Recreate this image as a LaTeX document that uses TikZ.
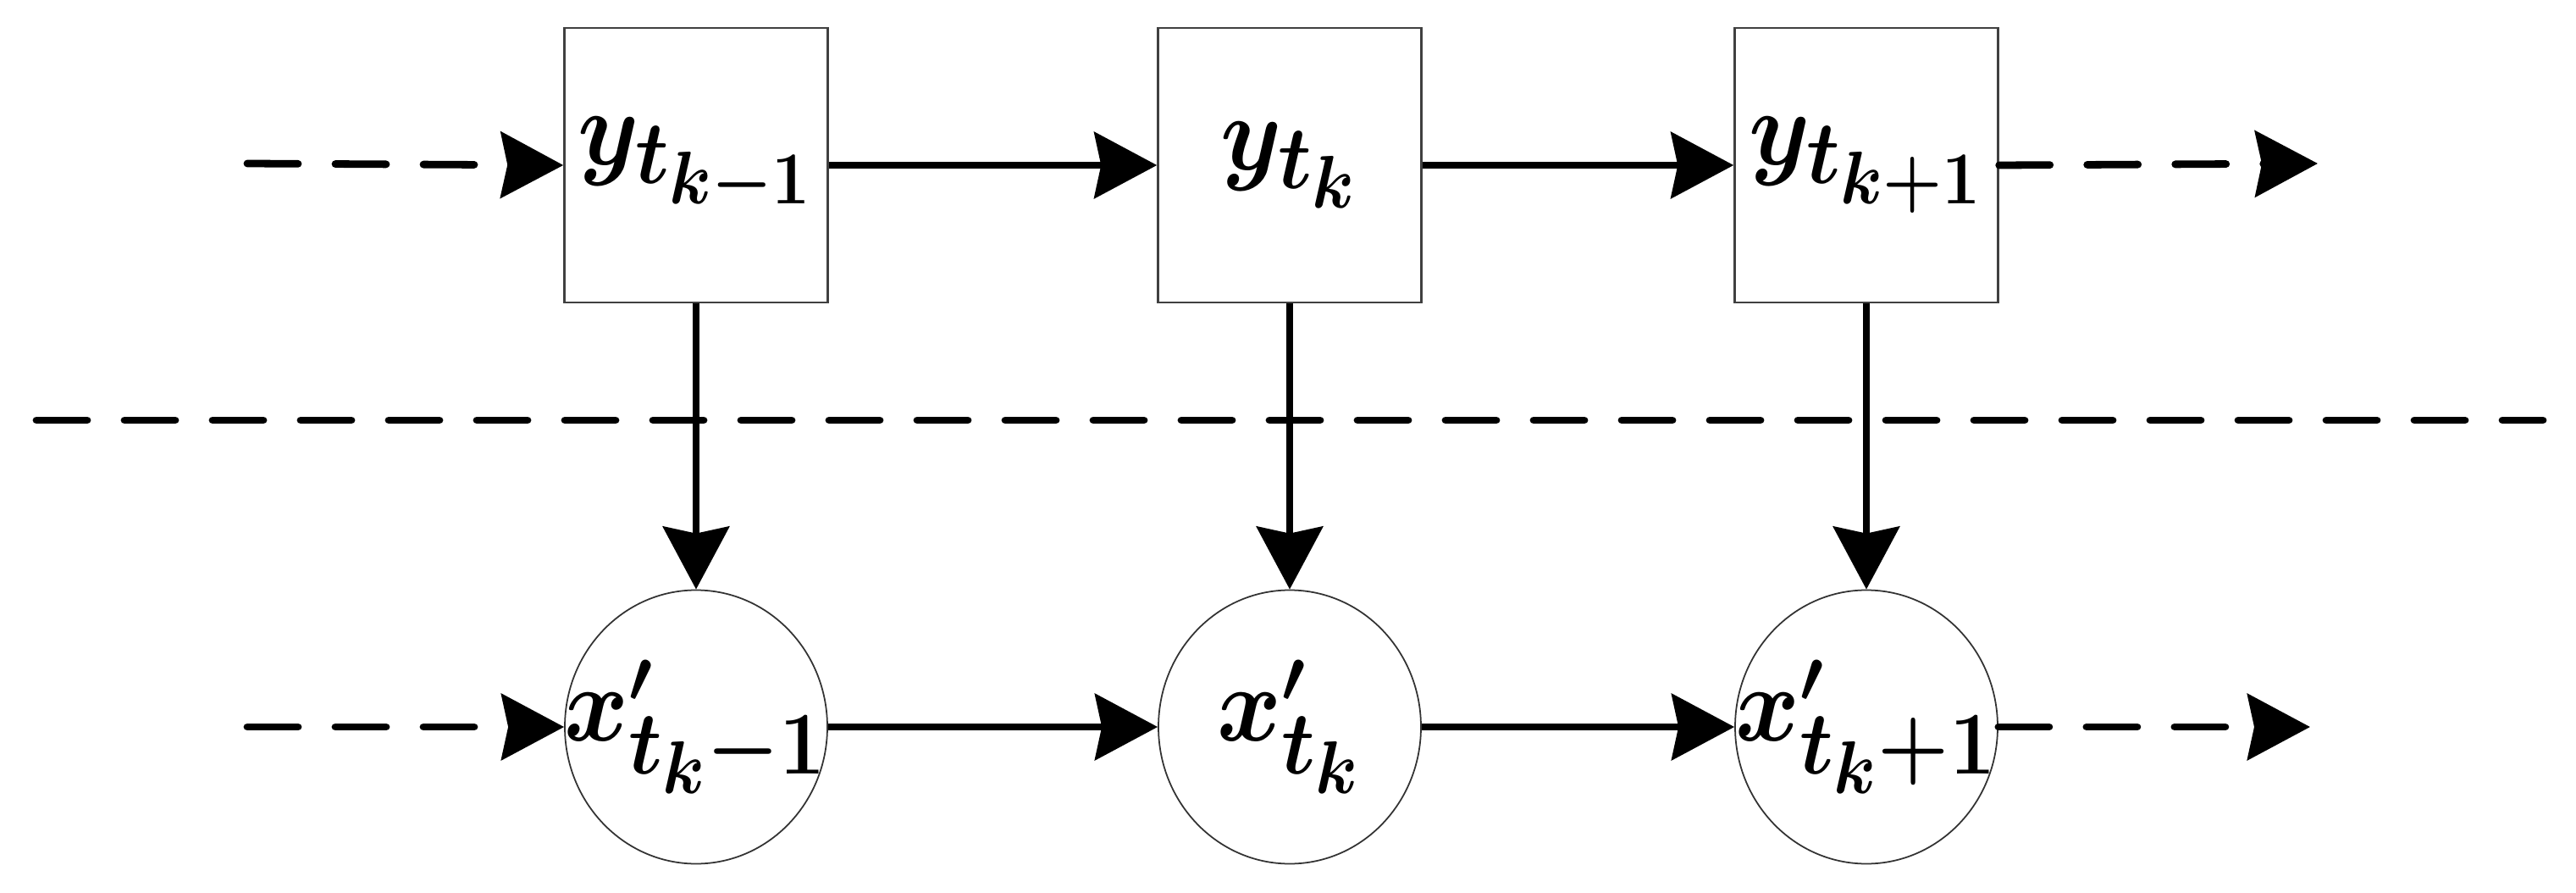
\documentclass[tikz,border=0pt]{standalone}
\usepackage{graphicx}
\usetikzlibrary{arrows.meta,shapes.geometric}
\newcommand{\bigsym}[1]{\makebox[0pt]{\scalebox{1.32}[1.45]{\boldmath$#1$}}}
\begin{document}
\begin{tikzpicture}[
    obsbox/.style={draw=black!75, line width=0.7pt, minimum width=3.11cm, minimum height=3.24cm, inner sep=0pt, font=\Huge},
    hidnode/.style={draw=black!80, line width=0.5pt, ellipse, minimum width=3.1cm, minimum height=3.23cm, inner sep=0pt, font=\Huge},
    flow/.style={line width=2.5pt, -{Stealth[length=7.4mm, width=7.8mm, inset=0.8mm]}},
    dflow/.style={flow, line cap=round, dash pattern=on 0.6cm off 0.44cm}
  ]
  \useasboundingbox (0,0) rectangle (30.42,-10.54);
  % top row
  \node[obsbox] (YA) at (8.22,-1.95) {\bigsym{y_{t_{k-1}}}};
  \node[obsbox] (YB) at (15.23,-1.95) {\bigsym{y_{t_k}}};
  \node[obsbox] (YC) at (22.04,-1.95) {\bigsym{y_{t_{k+1}}}};
  % bottom row
  \node[hidnode] (XA) at (8.22,-8.58) {\bigsym{x^{\scriptscriptstyle\prime}_{t_k-1}}};
  \node[hidnode] (XB) at (15.23,-8.58) {\bigsym{x^{\scriptscriptstyle\prime}_{t_k}}};
  \node[hidnode] (XC) at (22.04,-8.58) {\bigsym{x^{\scriptscriptstyle\prime}_{t_k+1}}};

  \coordinate (YIN) at (2.92,-1.93);
  \coordinate (YOUT) at (27.37,-1.93);
  \coordinate (XIN) at (2.92,-8.58);
  \coordinate (XOUT) at (27.28,-8.58);
  \coordinate (SL) at (0.43,-4.96);
  \coordinate (SR) at (30.03,-4.96);

  \draw[dflow] (YIN)--(YA.west);
  \draw[flow] (YA.east)--(YB.west);
  \draw[flow] (YB.east)--(YC.west);
  \draw[dflow] (YC.east)--(YOUT);

  \draw[dflow] (XIN)--(XA.west);
  \draw[flow] (XA.east)--(XB.west);
  \draw[flow] (XB.east)--(XC.west);
  \draw[dflow] (XC.east)--(XOUT);

  \draw[flow] (YA.south)--(XA.north);
  \draw[flow] (YB.south)--(XB.north);
  \draw[flow] (YC.south)--(XC.north);

  \draw[line width=2.5pt, line cap=round, dash pattern=on 0.6cm off 0.44cm] (SL)--(SR);
\end{tikzpicture}
\end{document}
